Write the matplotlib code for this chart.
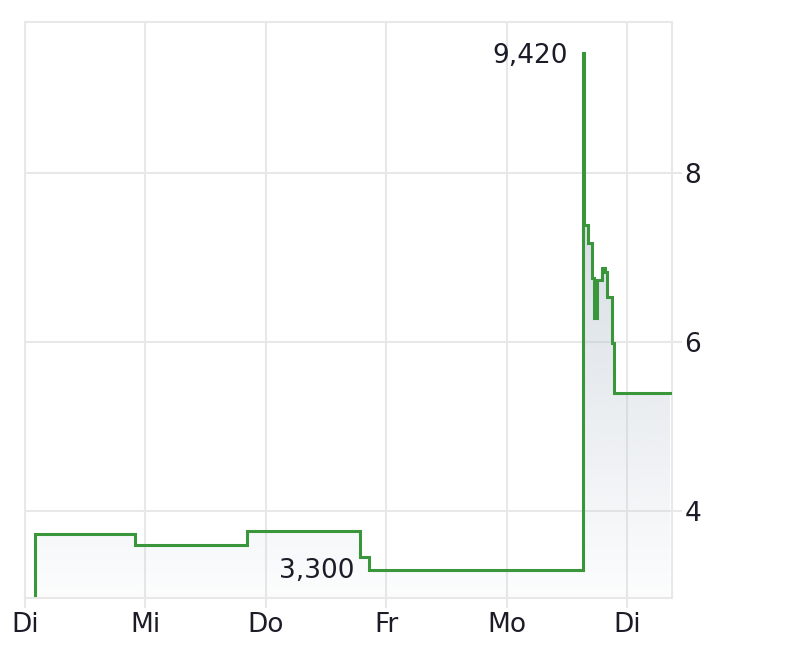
import numpy as np
import matplotlib
matplotlib.use("Agg")
import matplotlib.pyplot as plt

# days since first Tuesday (0 = Di, 1 = Mi, ...), step-style price series
times = [0.080, 0.085, 0.91, 1.84, 2.78, 2.86, 4.635, 4.645, 4.68, 4.71,
         4.73, 4.75, 4.79, 4.815, 4.83, 4.875, 4.895, 5.36]
prices = [3.00, 3.73, 3.60, 3.76, 3.46, 3.30, 9.42, 7.38, 7.17, 6.76,
          6.28, 6.73, 6.87, 6.83, 6.53, 5.99, 5.40, 5.40]

day_pos = [0, 1, 2, 3, 4, 5]
day_labels = ["Di", "Mi", "Do", "Fr", "Mo", "Di"]
y_ticks = [4, 6, 8]

hi_val, hi_text = 9.42, "9,420"
lo_val, lo_text = 3.30, "3,300"

grid_c = "#e8e8e8"
line_c = "#3a963a"
text_c = "#1c1c28"

fig = plt.figure(figsize=(8, 6.67), dpi=100)
ax = fig.add_axes([25 / 800, 69 / 667, 647 / 800, 576 / 667])
ax.set_xlim(0, 5.374)
ax.set_ylim(2.97, 9.787)

# gradient fill under the line
fill = ax.fill_between(times, prices, 2.97, step="post", color="none", lw=0)
ys = np.linspace(2.97, 9.787, 256)
alpha = np.clip(0.04 + (ys - 3.0) * 0.115, 0, 1)
img = np.zeros((256, 1, 4))
img[:, 0, 0] = 184 / 255
img[:, 0, 1] = 196 / 255
img[:, 0, 2] = 208 / 255
img[:, 0, 3] = alpha
im = ax.imshow(img, extent=(0, 5.374, 2.97, 9.787), origin="lower",
               aspect="auto", interpolation="bilinear", zorder=1)
im.set_clip_path(fill.get_paths()[0], transform=ax.transData)

ax.plot(times, prices, drawstyle="steps-post", color=line_c, lw=2.2,
        zorder=3, solid_joinstyle="miter")

ax.set_xticks(day_pos)
ax.set_xticklabels(day_labels)
ax.set_yticks(y_ticks)
ax.yaxis.tick_right()
ax.grid(True, color=grid_c, lw=1.5, zorder=0)
ax.set_axisbelow(True)
for s in ax.spines.values():
    s.set_color(grid_c)
    s.set_linewidth(1.5)
ax.tick_params(axis="both", colors=grid_c, length=7, width=1.5,
               labelsize=19, labelcolor=text_c)
ax.tick_params(axis="x", pad=3)
ax.tick_params(axis="y", pad=2)

ax.text(4.51, 9.39, hi_text, ha="right", va="center", fontsize=19,
        color=text_c)
ax.text(2.74, 3.29, lo_text, ha="right", va="center", fontsize=19,
        color=text_c)

fig.savefig("out.png", dpi=100)
